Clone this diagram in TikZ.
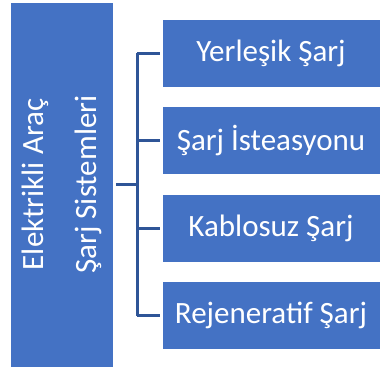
\documentclass[tikz,border=0pt]{standalone}
\usepackage{fontspec}
\setmainfont{Carlito}
\usepackage{tikz}
\usetikzlibrary{positioning,calc}
\definecolor{boxblue}{HTML}{4472C4}
\definecolor{linkblue}{HTML}{2F5597}

\begin{document}
\begin{tikzpicture}[x=1pt,y=-1pt,
  box/.style={draw=white,line width=0.8pt,fill=boxblue,text=white,inner sep=0pt,
    font=\fontsize{31}{53}\selectfont},
  leafbox/.style={box,minimum width=218pt,minimum height=68pt},
  link/.style={linkblue,line width=3pt}]
\useasboundingbox (0,0) rectangle (380,370);
\node[box,rotate=90,minimum width=365pt,minimum height=103pt,align=center] (sys) at (61.5,184.5) {Elektrikli Araç\\Şarj Sistemleri};
\node[leafbox] (b1) at (271,53) {Yerleşik Şarj};
\node[leafbox] (b2) at (271,140.5) {Şarj İsteasyonu};
\node[leafbox] (b3) at (271,228.5) {Kablosuz Şarj};
\node[leafbox] (b4) at (271,315.5) {Rejeneratif Şarj};
\coordinate (hub) at (137,184.5);
\draw[link,shorten <=3pt] (sys.south) -- (hub);
\draw[link] (hub |- b1.west) -- (hub |- b4.west);
\foreach \b in {b1,b2,b3,b4}
  \draw[link,shorten >=2pt] (hub |- \b.west) -- (\b.west);
\end{tikzpicture}
\end{document}
